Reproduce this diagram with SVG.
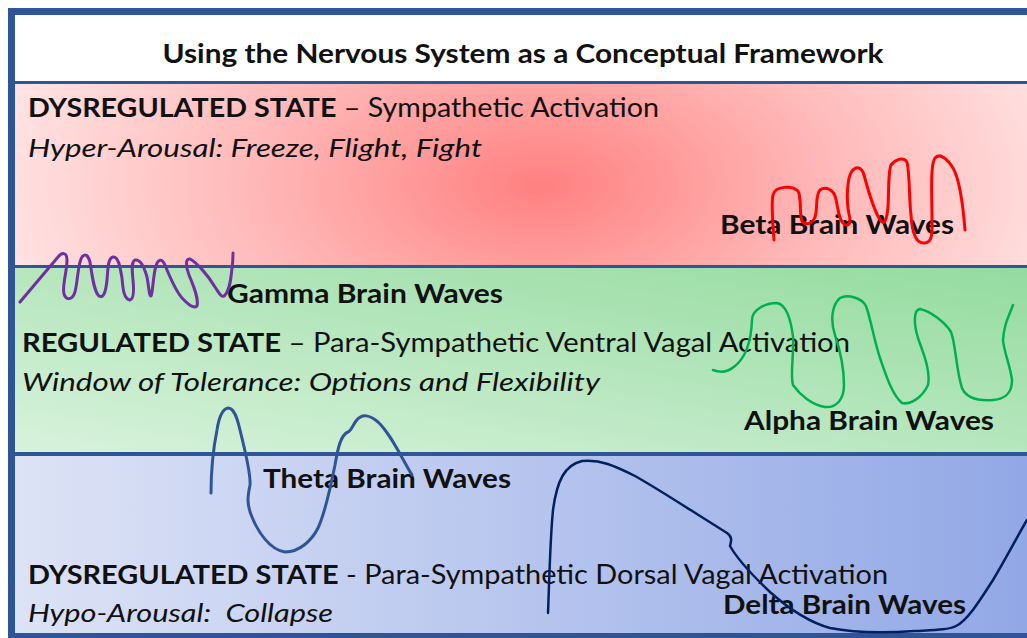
<svg xmlns="http://www.w3.org/2000/svg" width="1027" height="638" viewBox="0 0 1027 638">
<style>
.t{font-family:Lato,"Open Sans","Liberation Sans",sans-serif;fill:#111;font-size:26px}
.b{font-weight:bold}
.i{font-style:italic}
.wave{fill:none;stroke-linecap:round;stroke-linejoin:round}
.sep{fill:#2F5597}
</style>
<defs>
<radialGradient id="gRed" gradientUnits="userSpaceOnUse" cx="540" cy="185" r="540" gradientTransform="translate(540 185) scale(1 0.55) translate(-540 -185)">
<stop offset="0" stop-color="#FF8080"/>
<stop offset="0.5" stop-color="#FFB5B5"/>
<stop offset="1" stop-color="#FFE2E2"/>
</radialGradient>
<linearGradient id="gGreen" x1="1" y1="0" x2="0" y2="1">
<stop offset="0" stop-color="#94DB9F"/>
<stop offset="1" stop-color="#D8F2DC"/>
</linearGradient>
<linearGradient id="gBlue" x1="0" y1="0" x2="1" y2="0">
<stop offset="0" stop-color="#DDE3F6"/>
<stop offset="1" stop-color="#92A8E6"/>
</linearGradient>
</defs>
<rect width="1027" height="638" fill="#FFFFFF"/>
<g id="header">
<rect x="15" y="15" width="1012" height="66" fill="#FFFFFF"/>
<text class="t b" x="523" y="63" text-anchor="middle" font-size="24" textLength="721" lengthAdjust="spacingAndGlyphs">Using the Nervous System as a Conceptual Framework</text>
</g>
<g id="sympathetic">
<rect x="15" y="84" width="1012" height="181" fill="url(#gRed)"/>
<text class="t" x="28" y="117" textLength="631" lengthAdjust="spacingAndGlyphs"><tspan class="b">DYSREGULATED STATE</tspan> – Sympathetic Activation</text>
<text class="t i" x="28" y="157" textLength="454" lengthAdjust="spacingAndGlyphs">Hyper-Arousal: Freeze, Flight, Fight</text>
</g>
<g id="ventral">
<rect x="15" y="268" width="1012" height="184" fill="url(#gGreen)"/>
<text class="t" x="22" y="352" textLength="828" lengthAdjust="spacingAndGlyphs"><tspan class="b">REGULATED STATE</tspan> – Para-Sympathetic Ventral Vagal Activation</text>
<text class="t i" x="22" y="391" textLength="578" lengthAdjust="spacingAndGlyphs">Window of Tolerance: Options and Flexibility</text>
</g>
<g id="dorsal">
<rect x="15" y="456" width="1012" height="177" fill="url(#gBlue)"/>
<text class="t" x="28" y="584" textLength="860" lengthAdjust="spacingAndGlyphs"><tspan class="b">DYSREGULATED STATE</tspan> - Para-Sympathetic Dorsal Vagal Activation</text>
<text class="t i" x="28" y="622" textLength="305" lengthAdjust="spacingAndGlyphs" style="white-space:pre">Hypo-Arousal:  Collapse</text>
</g>
<g id="frame">
<rect class="sep" x="8" y="8" width="1019" height="7"/>
<rect class="sep" x="8" y="8" width="7" height="630"/>
<rect class="sep" x="8" y="633" width="1019" height="5"/>
<rect class="sep" x="15" y="81" width="1012" height="3"/>
<rect class="sep" x="15" y="265" width="1012" height="3"/>
<rect class="sep" x="15" y="452" width="1012" height="4"/>
</g>
<g id="wave-labels">
<text class="t b" x="720" y="234" textLength="234" lengthAdjust="spacingAndGlyphs">Beta Brain Waves</text>
<text class="t b" x="227" y="303" textLength="276" lengthAdjust="spacingAndGlyphs">Gamma Brain Waves</text>
<text class="t b" x="744" y="430" textLength="250" lengthAdjust="spacingAndGlyphs">Alpha Brain Waves</text>
<text class="t b" x="263" y="488" textLength="248" lengthAdjust="spacingAndGlyphs">Theta Brain Waves</text>
<text class="t b" x="723" y="614" textLength="243" lengthAdjust="spacingAndGlyphs">Delta Brain Waves</text>
</g>
<g id="connectors">
<path id="beta" class="wave" stroke="#FF0000" stroke-width="3" d="M774 240 C773 225 771 205 773 195 C775 186 792 185 798 191 C802 198 799 215 802 221 C806 226 812 224 815 217 C818 208 815 195 820 190 C826 186 833 190 835 196 C838 205 838 218 843 223 C847 227 852 226 849 214 C846 200 847 178 852 171 C857 165 862 168 864 175 C868 190 874 212 881 221 C885 225 887 218 888 207 C889 190 888 172 891 165 C895 160 903 156 907 162 C910 175 909 200 911 215 C912 235 917 244 925 243 C933 242 932 232 932 220 C932 195 930 165 935 158 C940 152 948 160 953 168 C960 180 963 205 965 230"/>
<path id="gamma" class="wave" stroke="#7030A0" stroke-width="3" d="M20 302 L58 257 C62 252 67 252 67 260 C67 272 62 285 64 294 C66 300 72 301 75 292 C78 280 78 262 82 257 C85 253 88 255 90 262 C92 275 94 292 99 296 C104 299 106 290 107 280 C108 268 108 258 113 257 C118 256 120 266 122 278 C123 290 124 299 130 300 C134 299 134 290 133 280 C132 270 131 262 135 260 C140 259 144 266 147 277 C149 287 149 296 151 296 C153 292 153 275 156 266 C158 259 162 258 165 265 C169 275 176 292 183 299 C188 304 193 309 197 306 C199 298 193 285 189 275 C186 267 185 258 190 259 C196 262 208 275 215 287 C219 293 222 299 225 295 C230 290 231 278 232 268 C233 262 233 258 233 253"/>
<path id="alpha" class="wave" stroke="#00B050" stroke-width="2.5" d="M713 370 C718 372 726 374 735 366 C745 358 751 345 752 320 C752 310 765 303 777 303 C787 305 791 320 793 337 C794 355 790 375 793 385 C800 395 812 405 825 407 C836 408 844 400 844 385 C844 368 840 350 835 335 C830 320 832 305 840 298 C848 294 862 298 866 306 C871 320 874 340 880 358 C886 375 892 395 902 403 C910 405 922 398 928 385 C931 370 922 350 918 338 C914 325 913 310 920 309 C930 311 945 322 951 332 C956 345 956 370 962 388 C966 398 978 401 993 400 C1005 399 1012 394 1012 380 C1010 365 1004 352 1003 340 C1004 325 1008 318 1013 305"/>
<path id="theta" class="wave" stroke="#2F5597" stroke-width="3" d="M211 493 C211 475 213 450 217 430 C219 417 222 409 228 408 C234 408 237 417 240 430 C245 450 251 475 250 485 C248 495 246 503 252 517 C258 532 270 550 285 552 C300 552 312 540 318 528 C325 513 330 490 335 465 C338 447 341 435 348 432 C351 431 353 425 356 421 C362 413 370 415 378 422 C390 433 400 455 412 475"/>
<path id="delta" class="wave" stroke="#002060" stroke-width="2.5" d="M548 613 C549 590 550 540 553 510 C557 480 565 465 582 461 C600 459 615 466 635 476 C660 490 690 510 727 533 C733 537 731 542 730 546 C738 560 752 575 770 592 C788 608 808 622 830 628 C855 633 885 633 915 631 C935 630 948 630 956 626 C968 620 980 600 993 580 C1005 560 1017 537 1027 520"/>
</g>
</svg>
